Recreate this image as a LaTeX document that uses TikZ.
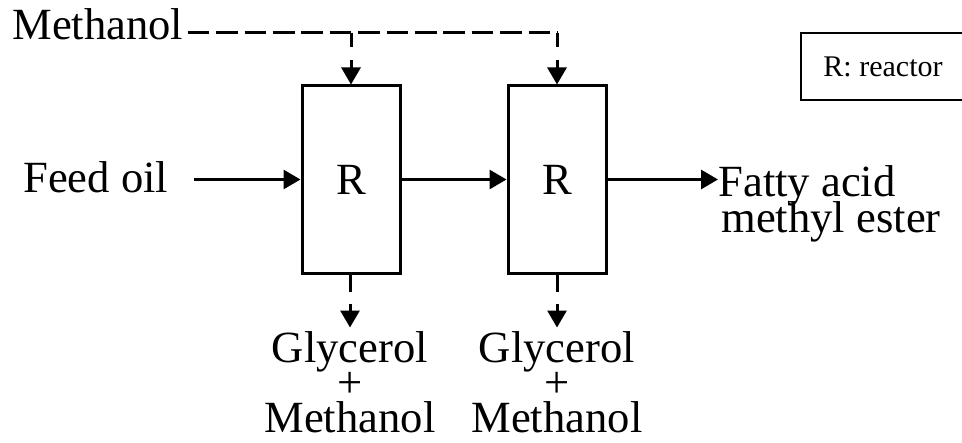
\documentclass[tikz,border=0pt]{standalone}
\usepackage{fontspec}
\setmainfont{Liberation Serif}
\usetikzlibrary{arrows.meta}
\tikzset{
  tip/.style={-{Triangle[width=9.5pt,length=8.5pt]}},
  flow/.style={line width=1.5pt, tip},
  topdash/.style={line width=1.5pt, tip, dash pattern=on 7pt off 6.5pt on 40pt},
  botdash/.style={line width=1.5pt, tip, dash pattern=on 8.5pt off 6pt on 40pt},
  dashline/.style={line width=1.5pt, dash pattern=on 10.8pt off 3.4pt},
  reactor/.style={draw, line width=1.5pt, minimum width=49pt, minimum height=93.5pt, inner sep=0pt, font=\fontsize{22.3}{26}\selectfont},
  lbl/.style={inner sep=0pt, font=\fontsize{22.3}{26}\selectfont},
  stack/.style={inner sep=0pt, align=center, font=\fontsize{22.3}{17.5}\selectfont},
  legend/.style={draw, line width=1pt, minimum width=82pt, minimum height=33.5pt, inner sep=0pt, font=\fontsize{15}{18}\selectfont}
}
\begin{document}
\begin{tikzpicture}[x=0.5pt,y=-0.5pt]
\useasboundingbox (0,0) rectangle (962,443);
\node[reactor] (r1) at (351,179.5) {R};
\node[reactor] (r2) at (557,179.5) {R};
\node[lbl, anchor=base west] (feed) at (23,192) {Feed oil};
\node[lbl, anchor=base west] (meth) at (12,40) {Methanol};
\node[lbl, anchor=base west] (fa) at (718,197) {Fatty acid};
\node[lbl, anchor=base west] (me) at (721,233) {methyl ester};
\node[stack, anchor=north] (g1) at (350,331.5) {Glycerol\\+\\Methanol};
\node[stack, anchor=north] (g2) at (557,331.5) {Glycerol\\+\\Methanol};
\node[legend, anchor=west] (leg) at (800,66.5) {R: reactor};
\coordinate (m1) at (351,33);
\coordinate (m2) at (557,33);
\draw[dashline] (meth.east |- m1) ++(4,0) -- (m2);
\draw[topdash] (m1) -- (r1.north);
\draw[topdash] (m2) -- (r2.north);
\draw[flow] (feed.east |- r1.west) ++(25,0) -- (r1.west);
\draw[flow] (r1.east) -- (r2.west);
\draw[flow] (r2.east) -- (r2.east -| fa.west);
\draw[botdash] (g1.north |- r1.south) -- ([yshift=2pt]g1.north);
\draw[botdash] (g2.north |- r2.south) -- ([yshift=2pt]g2.north);
\end{tikzpicture}
\end{document}
